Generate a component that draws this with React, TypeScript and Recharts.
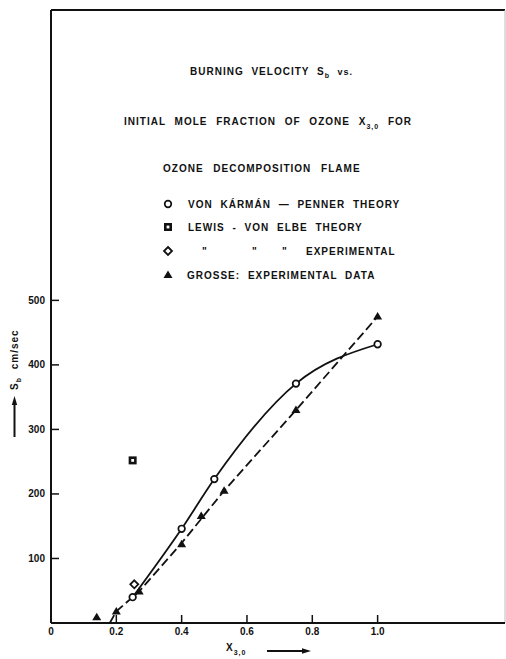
import React from 'react';
import { ComposedChart, Line, Scatter, XAxis, YAxis, ReferenceLine } from 'recharts';

// von Kármán - Penner theory (open circles, solid curve)
const vkpX = [0.25, 0.4, 0.5, 0.75, 1.0];
const vkpSb = [40, 146, 223, 371, 432];

// Lewis - von Elbe theory (square)
const lewisX = [0.25];
const lewisSb = [252];

// Lewis - von Elbe experimental (diamond)
const lewisExpX = [0.255];
const lewisExpSb = [60];

// Grosse experimental data (triangles)
const grosseX = [0.14, 0.2, 0.27, 0.4, 0.46, 0.53, 0.75, 1.0];
const grosseSb = [9, 18, 49, 122, 166, 205, 330, 475];

// dashed curve through Grosse's points, runs down to the axis
const grosseFitX = [0.18, 0.2, 0.27, 0.4, 0.53, 0.75, 1.0];
const grosseFitSb = [0, 18, 49, 124, 205, 330, 475];

const xTicks = [0, 0.2, 0.4, 0.6, 0.8, 1.0];
const yTicks = [100, 200, 300, 400, 500];

const X_MAX = 1.39;
const Y_MAX = 950;

const toPoints = (xs: number[], ys: number[]) => xs.map((x, i) => ({ x, y: ys[i] }));

const vkpData = toPoints(vkpX, vkpSb);
const lewisData = toPoints(lewisX, lewisSb);
const lewisExpData = toPoints(lewisExpX, lewisExpSb);
const grosseData = toPoints(grosseX, grosseSb);
const grosseFit = toPoints(grosseFitX, grosseFitSb);

const FONT = '"Liberation Sans", Arial, sans-serif';
const INK = '#111';

function OpenCircle({ cx, cy }: any) {
  return <circle cx={cx} cy={cy} r={3.3} fill="#fff" stroke={INK} strokeWidth={1.7} />;
}
function OpenSquare({ cx, cy }: any) {
  return <rect x={cx - 2.7} y={cy - 2.7} width={5.4} height={5.4} fill="#fff" stroke={INK} strokeWidth={2.6} />;
}
function OpenDiamond({ cx, cy }: any) {
  return (
    <polygon
      points={`${cx},${cy - 4} ${cx + 4},${cy} ${cx},${cy + 4} ${cx - 4},${cy}`}
      fill="#fff"
      stroke={INK}
      strokeWidth={1.8}
    />
  );
}
function Triangle({ cx, cy }: any) {
  return <polygon points={`${cx},${cy - 4.5} ${cx + 4.5},${cy + 3} ${cx - 4.5},${cy + 3}`} fill={INK} />;
}

const fmtX = (v: number) => (v === 0 ? '0' : v.toFixed(1));

const txt = { fontFamily: FONT, fontWeight: 700, fontSize: 10, fill: INK, letterSpacing: 1, wordSpacing: 4 } as const;

function Annotations() {
  return (
    <svg width={506} height={659} style={{ position: 'absolute', left: 0, top: 0, pointerEvents: 'none' }}>
      {/* title */}
      <text x={190} y={75} {...txt}>
        BURNING VELOCITY S<tspan fontSize={7} dy={3}>b</tspan>
        <tspan dy={-3} fontSize={9}> vs.</tspan>
      </text>
      <text x={124} y={125} {...txt} wordSpacing={5}>
        INITIAL MOLE FRACTION OF OZONE X<tspan fontSize={7} dy={4}>3,0</tspan>
        <tspan dy={-4}> FOR</tspan>
      </text>
      <text x={163} y={172} {...txt} wordSpacing={6}>
        OZONE DECOMPOSITION FLAME
      </text>

      {/* legend */}
      <OpenCircle cx={168} cy={204} />
      <text x={188} y={208} {...txt}>VON KÁRMÁN — PENNER THEORY</text>
      <OpenSquare cx={168} cy={227} />
      <text x={188} y={231} {...txt}>LEWIS - VON ELBE THEORY</text>
      <OpenDiamond cx={168} cy={251} />
      <text x={202} y={255} {...txt}>"</text>
      <text x={252} y={255} {...txt}>"</text>
      <text x={282} y={255} {...txt}>"</text>
      <text x={306} y={255} {...txt}>EXPERIMENTAL</text>
      <Triangle cx={168} cy={275} />
      <text x={187} y={279} {...txt}>GROSSE: EXPERIMENTAL DATA</text>

      {/* y axis label */}
      <g transform="rotate(-90, 18, 390)">
        <text x={18} y={390} {...txt}>
          S<tspan fontSize={7} dy={3}>b</tspan>
          <tspan dy={-3}> cm/sec</tspan>
        </text>
      </g>
      <line x1={14.5} y1={437} x2={14.5} y2={402} stroke={INK} strokeWidth={2} />
      <polygon points="14.5,396 11.8,405 17.2,405" fill={INK} />

      {/* x axis label */}
      <text x={226} y={651} {...txt}>
        X<tspan fontSize={7} dy={4}>3,0</tspan>
      </text>
      <line x1={267} y1={651} x2={304} y2={651} stroke={INK} strokeWidth={2} />
      <polygon points="311,651 302,648.3 302,653.7" fill={INK} />
    </svg>
  );
}

export default function App() {
  return (
    <div style={{ position: 'absolute', left: 0, top: 0, width: 506, height: 659, background: '#fff' }}>
      <ComposedChart width={506} height={659} margin={{ top: 10, right: 1, bottom: 0, left: 0 }}>
        <XAxis
          type="number"
          dataKey="x"
          domain={[0, X_MAX]}
          ticks={xTicks}
          interval={0}
          tickFormatter={fmtX}
          height={36}
          axisLine={{ stroke: INK, strokeWidth: 2 }}
          tickLine={{ stroke: INK, strokeWidth: 1.5 }}
          tickSize={-8}
          tickMargin={13}
          tick={{ fontFamily: FONT, fontWeight: 700, fontSize: 10, fill: INK }}
        />
        <YAxis
          type="number"
          dataKey="y"
          domain={[0, Y_MAX]}
          ticks={yTicks}
          interval={0}
          width={51}
          axisLine={{ stroke: INK, strokeWidth: 2 }}
          tickLine={{ stroke: INK, strokeWidth: 1.5 }}
          tickSize={-8}
          tickMargin={14}
          tick={{ fontFamily: FONT, fontWeight: 700, fontSize: 10, fill: INK }}
        />
        {/* frame: top edge and faint right edge */}
        <ReferenceLine y={Y_MAX} stroke={INK} strokeWidth={2} />
        <ReferenceLine x={X_MAX} stroke="#bbb" strokeWidth={1} />

        <Line
          data={vkpData}
          dataKey="y"
          type="monotone"
          stroke={INK}
          strokeWidth={1.8}
          dot={false}
          isAnimationActive={false}
        />
        <Line
          data={grosseFit}
          dataKey="y"
          type="linear"
          stroke={INK}
          strokeWidth={1.8}
          strokeDasharray="9 4"
          dot={false}
          isAnimationActive={false}
        />
        <Scatter data={vkpData} dataKey="y" shape={OpenCircle} isAnimationActive={false} />
        <Scatter data={lewisData} dataKey="y" shape={OpenSquare} isAnimationActive={false} />
        <Scatter data={lewisExpData} dataKey="y" shape={OpenDiamond} isAnimationActive={false} />
        <Scatter data={grosseData} dataKey="y" shape={Triangle} isAnimationActive={false} />
      </ComposedChart>
      <Annotations />
    </div>
  );
}
